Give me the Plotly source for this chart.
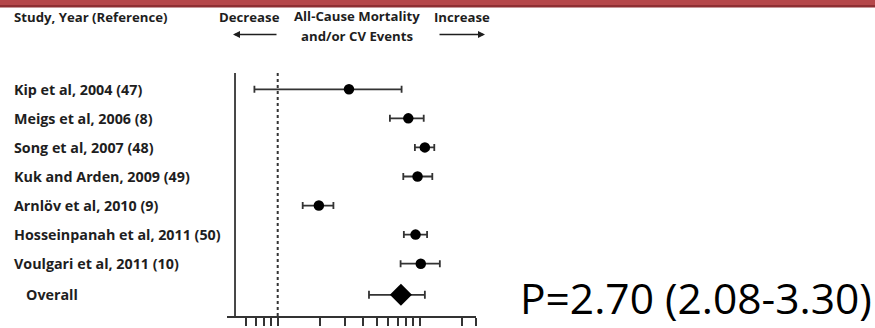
import plotly.graph_objects as go
import math

studies = ["Kip et al, 2004 (47)", "Meigs et al, 2006 (8)", "Song et al, 2007 (48)",
           "Kuk and Arden, 2009 (49)", "Arnlöv et al, 2010 (9)",
           "Hosseinpanah et al, 2011 (50)", "Voulgari et al, 2011 (10)"]
est = [3.18, 8.33, 10.9, 9.68, 1.95, 9.37, 10.2]
lo = [0.685, 6.18, 9.27, 7.68, 1.50, 7.75, 7.35]
hi = [7.47, 10.7, 12.7, 12.3, 2.47, 11.3, 13.9]
overall_label = "Overall"
overall_est = 7.39
overall_lo = 4.40
overall_hi = 10.9
tick_vals = [0.6, 0.7, 0.8, 0.9, 1, 2, 3, 4, 5, 6, 7, 8, 9, 10, 20, 25]
p_text = "P=2.70 (2.08-3.30)"

W, H = 875, 328
L, R, T, B = 227, 476, 73, 316
ml, mr, mt, mb = L, W - R, T, H - B

def px(x):
    return (x - L) / (R - L)

def py(y):
    return 1 - (y - T) / (B - T)

ink = "#1e1e1e"
fig = go.Figure()

ys = list(range(len(studies)))
fig.add_trace(go.Scatter(
    x=est, y=ys, mode="markers",
    marker=dict(symbol="circle", size=10.5, color="black"),
    error_x=dict(type="data", symmetric=False,
                 array=[h - e for h, e in zip(hi, est)],
                 arrayminus=[e - l for e, l in zip(est, lo)],
                 color="#333333", thickness=1.8, width=3.5),
    showlegend=False, hoverinfo="skip"))
oy = 7.07
fig.add_trace(go.Scatter(
    x=[overall_est], y=[oy], mode="markers",
    marker=dict(symbol="diamond", size=17, color="black"),
    error_x=dict(type="data", symmetric=False,
                 array=[overall_hi - overall_est],
                 arrayminus=[overall_est - overall_lo],
                 color="#333333", thickness=1.8, width=4),
    showlegend=False, hoverinfo="skip"))

xmin = 0.439
fig.update_xaxes(type="log", range=[math.log10(xmin), math.log10(25)],
                 showgrid=False, zeroline=False, showline=True, linecolor="#333333",
                 linewidth=1.8, ticks="outside", ticklen=8, tickwidth=1.5,
                 tickcolor="#333333", tickvals=tick_vals, showticklabels=False,
                 automargin=False)
fig.update_yaxes(range=[7.8, -0.56], showgrid=False, zeroline=False,
                 showticklabels=False, showline=False, automargin=False)

# vertical lines
fig.add_shape(type="line", xref="x", yref="paper", x0=0.5, x1=0.5, y0=0, y1=1,
              line=dict(color="#333333", width=1.8))
fig.add_shape(type="line", xref="x", yref="paper", x0=1, x1=1, y0=0, y1=1,
              line=dict(color="#333333", width=2, dash="dot"))

# top red bar
fig.add_shape(type="rect", xref="paper", yref="paper", x0=px(0), x1=px(W),
              y0=py(5), y1=py(0), line=dict(width=0), fillcolor="#b5474a", layer="above")
fig.add_shape(type="rect", xref="paper", yref="paper", x0=px(0), x1=px(W),
              y0=py(7.5), y1=py(5), line=dict(width=0), fillcolor="#8f2f33", layer="above")

lab_font = dict(family="Open Sans", size=14.3, color=ink)
for s, yy in zip(studies, ys):
    fig.add_annotation(x=px(12), y=yy, xref="paper", yref="y", text="<b>%s</b>" % s,
                       showarrow=False, xanchor="left", yanchor="middle", font=lab_font)
fig.add_annotation(x=px(24), y=oy, xref="paper", yref="y", text="<b>%s</b>" % overall_label,
                   showarrow=False, xanchor="left", yanchor="middle", font=lab_font)

hdr = dict(family="Open Sans", size=13.2, color=ink)
fig.add_annotation(x=px(12), y=py(17), xref="paper", yref="paper",
                   text="<b>Study, Year (Reference)</b>", showarrow=False,
                   xanchor="left", yanchor="middle", font=hdr)
fig.add_annotation(x=px(249), y=py(17), xref="paper", yref="paper", text="<b>Decrease</b>",
                   showarrow=False, xanchor="center", yanchor="middle", font=hdr)
fig.add_annotation(x=px(357), y=py(16), xref="paper", yref="paper",
                   text="<b>All-Cause Mortality</b>", showarrow=False,
                   xanchor="center", yanchor="middle", font=hdr)
fig.add_annotation(x=px(357), y=py(36), xref="paper", yref="paper",
                   text="<b>and/or CV Events</b>", showarrow=False,
                   xanchor="center", yanchor="middle", font=hdr)
fig.add_annotation(x=px(462), y=py(17), xref="paper", yref="paper", text="<b>Increase</b>",
                   showarrow=False, xanchor="center", yanchor="middle", font=hdr)
# arrows
fig.add_annotation(x=px(233), y=py(34.5), xref="paper", yref="paper", ax=45, ay=0,
                   text="", showarrow=True, arrowhead=2, arrowsize=1, arrowwidth=1.4,
                   arrowcolor=ink)
fig.add_annotation(x=px(485), y=py(34.5), xref="paper", yref="paper", ax=-47, ay=0,
                   text="", showarrow=True, arrowhead=2, arrowsize=1, arrowwidth=1.4,
                   arrowcolor=ink)

fig.add_annotation(x=px(518), y=py(297.5), xref="paper", yref="paper", text=p_text,
                   showarrow=False, xanchor="left", yanchor="middle",
                   font=dict(family="Open Sans", size=42.5, color="black"))

fig.update_layout(width=W, height=H, margin=dict(l=ml, r=mr, t=mt, b=mb),
                  plot_bgcolor="white", paper_bgcolor="white")
fig.write_html("out.html")
